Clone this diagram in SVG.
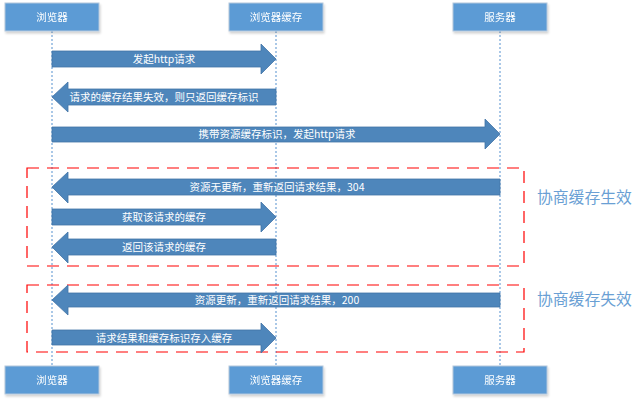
<svg xmlns="http://www.w3.org/2000/svg" width="641" height="402" viewBox="0 0 641 402">
<style>
.box{fill:#5b9bd5;stroke:#b4c7dc;stroke-width:1}
.bt{font-family:"Noto Sans CJK SC","Microsoft YaHei",sans-serif;font-size:10.5px;fill:#fff;text-anchor:middle}
.life{stroke:#8eb6e0;stroke-width:1.5;stroke-dasharray:2 2;fill:none}
.arr{fill:#4e86bb;stroke:#4274a6;stroke-width:0.8}
.at{font-family:"Noto Sans CJK SC","Microsoft YaHei",sans-serif;font-size:10.5px;fill:#fff;text-anchor:middle}
.frame{fill:none;stroke:#ff0000;stroke-width:1.2;stroke-dasharray:12 8}
.lbl{font-family:"Noto Sans CJK SC","Microsoft YaHei",sans-serif;font-size:15.8px;fill:#6a9fd4}
</style>
<defs>
<filter id="sh" x="-10%" y="-10%" width="130%" height="140%"><feDropShadow dx="1" dy="2" stdDeviation="1.2" flood-color="#000" flood-opacity="0.18"/></filter>
</defs>
<g id="lifelines">
<line class="life" x1="52" y1="31" x2="52" y2="366"/>
<line class="life" x1="276" y1="31" x2="276" y2="366"/>
<line class="life" x1="500" y1="31" x2="500" y2="366"/>
</g>
<g id="frames">
<rect class="frame" x="27" y="168" width="497" height="98"/>
<rect class="frame" x="27" y="285" width="497" height="67"/>
<text class="lbl" x="537" y="202.5">协商缓存生效</text>
<text class="lbl" x="537" y="304.5">协商缓存失效</text>
</g>
<g id="browser-top" filter="url(#sh)"><rect class="box" x="5" y="3" width="94" height="28"/><text class="bt" x="52" y="20.5">浏览器</text></g>
<g id="cache-top" filter="url(#sh)"><rect class="box" x="229" y="3" width="94" height="28"/><text class="bt" x="276" y="20.5">浏览器缓存</text></g>
<g id="server-top" filter="url(#sh)"><rect class="box" x="453" y="3" width="94" height="28"/><text class="bt" x="500" y="20.5">服务器</text></g>
<g id="browser-bottom" filter="url(#sh)"><rect class="box" x="5" y="366" width="94" height="28"/><text class="bt" x="52" y="383.5">浏览器</text></g>
<g id="cache-bottom" filter="url(#sh)"><rect class="box" x="229" y="366" width="94" height="28"/><text class="bt" x="276" y="383.5">浏览器缓存</text></g>
<g id="server-bottom" filter="url(#sh)"><rect class="box" x="453" y="366" width="94" height="28"/><text class="bt" x="500" y="383.5">服务器</text></g>
<g id="connectors">
<polygon class="arr" points="52,51 261,51 261,44 276,59 261,74 261,67 52,67"/>
<text class="at" x="164" y="62.5">发起http请求</text>
<polygon class="arr" points="276,89 68,89 68,82 52,97 68,112 68,105 276,105"/>
<text class="at" x="164" y="100.5">请求的缓存结果失效，则只返回缓存标识</text>
<polygon class="arr" points="52,127 485,127 485,119 500,134 485,149 485,142 52,142"/>
<text class="at" x="277" y="137.5">携带资源缓存标识，发起http请求</text>
<polygon class="arr" points="500,179 68,179 68,172 52,187 68,203 68,195 500,195"/>
<text class="at" x="277" y="190.5">资源无更新，重新返回请求结果，304</text>
<polygon class="arr" points="52,209 261,209 261,202 276,217 261,232 261,225 52,225"/>
<text class="at" x="164" y="220.5">获取该请求的缓存</text>
<polygon class="arr" points="276,239 68,239 68,232 52,247 68,263 68,255 276,255"/>
<text class="at" x="164" y="250.5">返回该请求的缓存</text>
<polygon class="arr" points="500,293 68,293 68,285 52,300 68,315 68,307 500,307"/>
<text class="at" x="277" y="303.5">资源更新，重新返回请求结果，200</text>
<polygon class="arr" points="52,330 261,330 261,323 276,338 261,353 261,345 52,345"/>
<text class="at" x="164" y="341.5">请求结果和缓存标识存入缓存</text>
</g>
</svg>
